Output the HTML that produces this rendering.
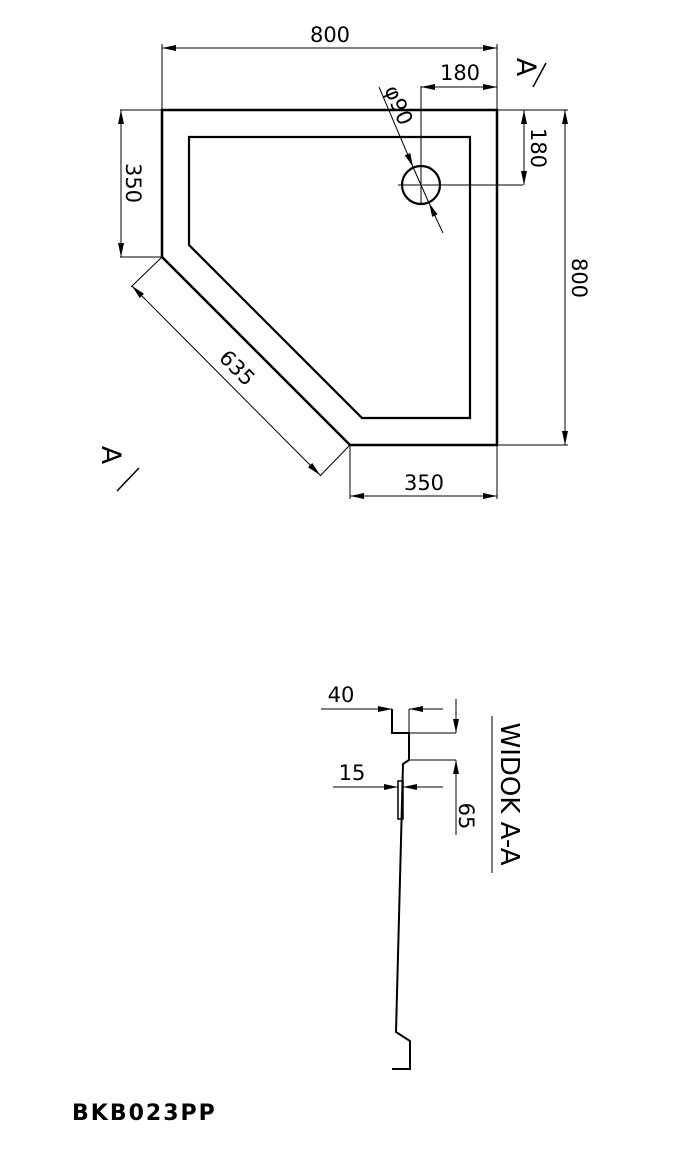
<!DOCTYPE html>
<html><head><style>
html,body{margin:0;padding:0;background:#fff;}
svg{display:block;}
text{font-family:"DejaVu Sans","Liberation Sans",sans-serif;fill:#000;}
</style></head><body>
<svg width="685" height="1168" viewBox="0 0 685 1168" xmlns="http://www.w3.org/2000/svg">
<defs>
<marker id="a" viewBox="0 0 14 6" refX="14" refY="3" markerWidth="14" markerHeight="6" markerUnits="userSpaceOnUse" orient="auto-start-reverse"><path d="M0,0 L14,3 L0,6 Z" fill="#000"/></marker>
</defs>
<g fill="none" stroke="#000">
<path d="M162,110 L497,110 L497,445 L350,445 L162,257 Z" stroke-width="2.5"/>
<path d="M189,137 L470,137 L470,418 L362,418 L189,245 Z" stroke-width="2.2"/>
<circle cx="421" cy="185" r="19" stroke-width="2.2"/>
<g stroke-width="1">
<line x1="398" y1="185" x2="523" y2="185"/>
<line x1="421" y1="86" x2="421" y2="205"/>
<line x1="162" y1="44" x2="162" y2="110"/>
<line x1="497" y1="44" x2="497" y2="110"/>
<line x1="162" y1="48" x2="497" y2="48" marker-start="url(#a)" marker-end="url(#a)"/>
<line x1="421" y1="87" x2="497" y2="87" marker-start="url(#a)" marker-end="url(#a)"/>
<line x1="497" y1="110" x2="568" y2="110"/>
<line x1="497" y1="445" x2="568" y2="445"/>
<line x1="524" y1="110" x2="524" y2="185" marker-start="url(#a)" marker-end="url(#a)"/>
<line x1="565" y1="110" x2="565" y2="445" marker-start="url(#a)" marker-end="url(#a)"/>
<line x1="120" y1="110" x2="162" y2="110"/>
<line x1="120" y1="257" x2="162" y2="257"/>
<line x1="121" y1="110" x2="121" y2="257" marker-start="url(#a)" marker-end="url(#a)"/>
<line x1="162" y1="257" x2="131" y2="287"/>
<line x1="350" y1="445" x2="320" y2="476"/>
<line x1="132" y1="286" x2="320" y2="475" marker-start="url(#a)" marker-end="url(#a)"/>
<line x1="350" y1="445" x2="350" y2="499"/>
<line x1="497" y1="445" x2="497" y2="499"/>
<line x1="350" y1="496" x2="497" y2="496" marker-start="url(#a)" marker-end="url(#a)"/>
<line x1="379" y1="87" x2="413" y2="167" marker-end="url(#a)"/>
<line x1="443" y1="233" x2="429" y2="203" marker-end="url(#a)"/>
<line x1="413" y1="167" x2="429" y2="203"/>
</g>
<line x1="533" y1="87" x2="546" y2="63" stroke-width="1.5"/>
<line x1="117" y1="491" x2="139" y2="468" stroke-width="1.5"/>
<path d="M392,709 L392,733 L409,733 L409,760 L403,764 L396,1032 L410,1041 L410,1069 L392,1069" stroke-width="2"/>
<rect x="398" y="781" width="5" height="38" stroke-width="1.5"/>
<g stroke-width="1">
<line x1="409" y1="709" x2="409" y2="733"/>
<line x1="409" y1="733" x2="456" y2="733"/>
<line x1="409" y1="760" x2="456" y2="760"/>
<line x1="321" y1="709" x2="392" y2="709" marker-end="url(#a)"/>
<line x1="443" y1="709" x2="409" y2="709" marker-end="url(#a)"/>
<line x1="456" y1="699" x2="456" y2="733" marker-end="url(#a)"/>
<line x1="456" y1="835" x2="456" y2="760" marker-end="url(#a)"/>
<line x1="333" y1="787" x2="398" y2="787" marker-end="url(#a)"/>
<line x1="443" y1="787" x2="403" y2="787" marker-end="url(#a)"/>
<line x1="492" y1="716" x2="492" y2="873"/>
</g>
</g>
<g font-size="21">
<text x="330" y="42" text-anchor="middle">800</text>
<text x="460" y="80" text-anchor="middle">180</text>
<text x="424" y="490" text-anchor="middle">350</text>
<text transform="translate(531,148) rotate(90)" text-anchor="middle">180</text>
<text transform="translate(572,278) rotate(90)" text-anchor="middle">800</text>
<text transform="translate(126,183) rotate(90)" text-anchor="middle">350</text>
<text transform="translate(232,373) rotate(45)" text-anchor="middle">635</text>
<text transform="translate(392,108) rotate(67)" text-anchor="middle">φ90</text>
<text transform="translate(517,67) rotate(90)" text-anchor="middle" font-size="27">A</text>
<text transform="translate(102,455) rotate(90)" text-anchor="middle" font-size="27">A</text>
<text x="341" y="702" text-anchor="middle">40</text>
<text x="352" y="780" text-anchor="middle">15</text>
<text transform="translate(459,816) rotate(90)" text-anchor="middle">65</text>
<text transform="translate(501,794) rotate(90)" text-anchor="middle" font-size="26">WIDOK A-A</text>
<text x="72" y="1120" font-size="22" font-weight="bold" font-family="Liberation Sans,sans-serif" letter-spacing="2">BKB023PP</text>
</g>
</svg>
</body></html>
